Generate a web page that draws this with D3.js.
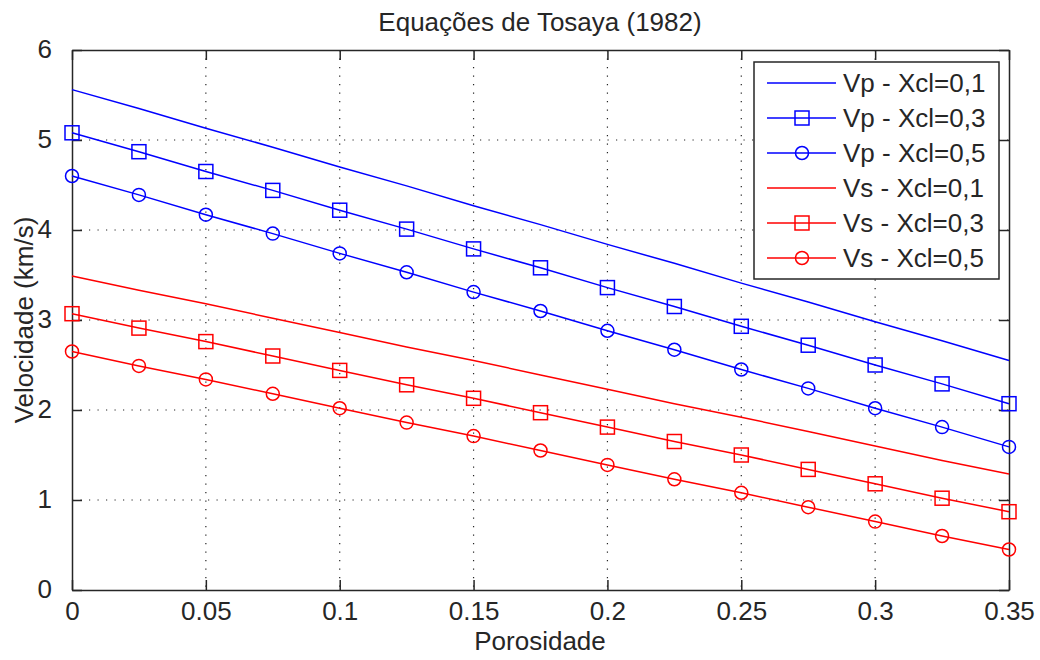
<!DOCTYPE html>
<html><head><meta charset="utf-8">
<script src="https://cdn.jsdelivr.net/npm/d3@7"></script>
<style>body{margin:0;background:#fff}svg{display:block}text{font-family:"Liberation Sans",Arial,sans-serif;fill:#262626}</style>
</head><body>
<svg id="c" width="1040" height="660"></svg>
<script>
const porosity = [0,0.025,0.05,0.075,0.1,0.125,0.15,0.175,0.2,0.225,0.25,0.275,0.3,0.325,0.35];
const vp01 = [5.56,5.35,5.13,4.92,4.70,4.49,4.27,4.06,3.84,3.63,3.41,3.20,2.98,2.77,2.55];
const vp03 = [5.08,4.87,4.65,4.44,4.22,4.01,3.79,3.58,3.36,3.15,2.93,2.72,2.50,2.29,2.07];
const vp05 = [4.60,4.39,4.17,3.96,3.74,3.53,3.31,3.10,2.88,2.67,2.45,2.24,2.02,1.81,1.59];
const vs01 = [3.49,3.33,3.18,3.02,2.86,2.70,2.55,2.39,2.23,2.07,1.92,1.76,1.60,1.44,1.29];
const vs03 = [3.07,2.91,2.76,2.60,2.44,2.28,2.13,1.97,1.81,1.65,1.50,1.34,1.18,1.02,0.87];
const vs05 = [2.65,2.49,2.34,2.18,2.02,1.86,1.71,1.55,1.39,1.23,1.08,0.92,0.76,0.60,0.45];
const seriesNames = ["Vp - Xcl=0,1","Vp - Xcl=0,3","Vp - Xcl=0,5","Vs - Xcl=0,1","Vs - Xcl=0,3","Vs - Xcl=0,5"];
const xTicks = [0,0.05,0.1,0.15,0.2,0.25,0.3,0.35];
const xTickLabels = ["0","0.05","0.1","0.15","0.2","0.25","0.3","0.35"];
const yTicks = [0,1,2,3,4,5,6];
const yTickLabels = ["0","1","2","3","4","5","6"];

const series = [
  {name:seriesNames[0], values:vp01, color:"#0000ff", marker:null},
  {name:seriesNames[1], values:vp03, color:"#0000ff", marker:"square"},
  {name:seriesNames[2], values:vp05, color:"#0000ff", marker:"circle"},
  {name:seriesNames[3], values:vs01, color:"#ff0000", marker:null},
  {name:seriesNames[4], values:vs03, color:"#ff0000", marker:"square"},
  {name:seriesNames[5], values:vs05, color:"#ff0000", marker:"circle"}
];

const FONT = "'Liberation Sans',Arial,sans-serif";
const FS = 26;
const svg = d3.select("#c");
const L=72, R=1009, T=50, B=590;
const x = d3.scaleLinear().domain([0,0.35]).range([L,R]);
const y = d3.scaleLinear().domain([0,6]).range([B,T]);
const axisColor="#262626";

// grid
const g = svg.append("g");
xTicks.slice(1,-1).forEach(t=>{
  g.append("line").attr("x1",x(t)).attr("x2",x(t)).attr("y1",T).attr("y2",B)
   .attr("stroke","#262626").attr("stroke-width",1.2).attr("stroke-dasharray","1.2,7.3");
});
yTicks.slice(1,-1).forEach(t=>{
  g.append("line").attr("x1",L).attr("x2",R).attr("y1",y(t)).attr("y2",y(t))
   .attr("stroke","#262626").attr("stroke-width",1.2).attr("stroke-dasharray","1.2,7.3");
});

// axes
const xb = svg.append("g").attr("transform",`translate(0,${B})`)
  .call(d3.axisBottom(x).tickValues(xTicks).tickFormat((d,i)=>xTickLabels[i]).tickSizeInner(-10).tickSizeOuter(0).tickPadding(12));
const xt = svg.append("g").attr("transform",`translate(0,${T})`)
  .call(d3.axisTop(x).tickValues(xTicks).tickFormat("").tickSizeInner(-10).tickSizeOuter(0));
const yl = svg.append("g").attr("transform",`translate(${L},0)`)
  .call(d3.axisLeft(y).tickValues(yTicks).tickFormat((d,i)=>yTickLabels[i]).tickSizeInner(-10).tickSizeOuter(0).tickPadding(20));
const yr = svg.append("g").attr("transform",`translate(${R},0)`)
  .call(d3.axisRight(y).tickValues(yTicks).tickFormat("").tickSizeInner(-10).tickSizeOuter(0));
[xb,xt,yl,yr].forEach(a=>{
  a.attr("font-size",FS).attr("font-family",FONT);
  a.selectAll("path").attr("stroke",axisColor).attr("stroke-width",1.5);
  a.selectAll("line").attr("stroke",axisColor).attr("stroke-width",1.5);
  a.selectAll("text").attr("fill","#262626");
});
yl.selectAll("text").attr("dy","0.3em");

// series
const line = d3.line().x((d,i)=>x(porosity[i])).y(d=>y(d));
series.forEach(s=>{
  svg.append("path").datum(s.values).attr("d",line).attr("fill","none").attr("stroke",s.color).attr("stroke-width",1.5);
  if(s.marker==="square"){
    svg.selectAll(null).data(s.values).enter().append("rect")
      .attr("x",(d,i)=>x(porosity[i])-7).attr("y",d=>y(d)-7).attr("width",14).attr("height",14)
      .attr("fill","none").attr("stroke",s.color).attr("stroke-width",1.5);
  } else if(s.marker==="circle"){
    svg.selectAll(null).data(s.values).enter().append("circle")
      .attr("cx",(d,i)=>x(porosity[i])).attr("cy",d=>y(d)).attr("r",6.5)
      .attr("fill","none").attr("stroke",s.color).attr("stroke-width",1.5);
  }
});

// legend
const lg = svg.append("g");
lg.append("rect").attr("x",754).attr("y",62).attr("width",245).attr("height",217)
  .attr("fill","#fff").attr("stroke",axisColor).attr("stroke-width",1.5);
series.forEach((s,i)=>{
  const ly = 83 + i*35;
  lg.append("line").attr("x1",767).attr("x2",836).attr("y1",ly).attr("y2",ly).attr("stroke",s.color).attr("stroke-width",1.5);
  if(s.marker==="square") lg.append("rect").attr("x",802-7).attr("y",ly-7).attr("width",14).attr("height",14).attr("fill","none").attr("stroke",s.color).attr("stroke-width",1.5);
  if(s.marker==="circle") lg.append("circle").attr("cx",802).attr("cy",ly).attr("r",6.5).attr("fill","none").attr("stroke",s.color).attr("stroke-width",1.5);
  lg.append("text").attr("x",843).attr("y",ly).attr("dy","0.35em").attr("font-size",FS).attr("font-family",FONT).text(s.name);
});

// titles
svg.append("text").attr("x",540).attr("y",22).attr("text-anchor","middle").attr("dy","0.35em").attr("font-size",FS).attr("font-family",FONT).text("Equações de Tosaya (1982)");
svg.append("text").attr("x",540).attr("y",641).attr("text-anchor","middle").attr("dy","0.35em").attr("font-size",FS).attr("font-family",FONT).text("Porosidade");
svg.append("text").attr("transform",`translate(24,${(T+B)/2}) rotate(-90)`).attr("text-anchor","middle").attr("dy","0.35em").attr("font-size",FS).attr("font-family",FONT).text("Velocidade (km/s)");
</script>
</body></html>
